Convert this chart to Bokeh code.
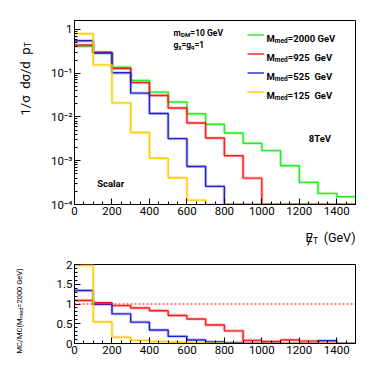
import numpy as np
from bokeh.plotting import figure
from bokeh.models import (Range1d, FixedTicker, CustomJSTickFormatter, Label, Legend,
                          LegendItem, Span)
from bokeh.layouts import column, row
from bokeh.embed import file_html
from bokeh.resources import INLINE

# ---------------- data ----------------
bin_edges = [0, 100, 200, 300, 400, 500, 600, 700, 800, 900, 1000, 1100, 1200, 1300, 1400, 1500]
series_names = ["2000", "925", "525", "125"]
norm_2000 = [0.41, 0.29, 0.137, 0.068, 0.037, 0.022, 0.0118, 0.0068, 0.0043, 0.0025,
             0.0017, 0.00077, 0.00032, 0.00018, 0.00015]
norm_925 = [0.44, 0.30, 0.128, 0.061, 0.031, 0.016, 0.0073, 0.0033, 0.0013, 0.0004,
            0, 0, 0, 0, 0]
norm_525 = [0.55, 0.29, 0.102, 0.035, 0.012, 0.0032, 0.00074, 0.00026, 0, 0,
            0, 0, 0, 0, 0]
norm_125 = [0.80, 0.155, 0.021, 0.0044, 0.00114, 0.00041, 0.000126, 0, 0, 0,
            0, 0, 0, 0, 0]
ratio_925 = [1.09, 1.03, 0.96, 0.90, 0.83, 0.71, 0.62, 0.47, 0.32, 0.08,
             0.05, 0.09, 0.06, 0.0, 0.0]
ratio_525 = [1.34, 0.99, 0.75, 0.54, 0.34, 0.18, 0.09, 0.04, 0.02, 0.01,
             0.01, 0.0, 0.0, 0.07, 0.0]
ratio_125 = [1.98, 0.55, 0.16, 0.08, 0.05, 0.03, 0.02, 0.0, 0.0, 0.0,
             0.0, 0.0, 0.0, 0.0, 0.0]
x_ticks = [0, 200, 400, 600, 800, 1000, 1200, 1400]
y_log_ticks = [1e-4, 1e-3, 1e-2, 1e-1, 1]
ratio_ticks = [0, 0.5, 1, 1.5, 2]

colors = ["#22ee22", "#ff1a1a", "#2222cc", "#ffcc00"]
FONT = "Roboto"
YMIN, YMAX = 1e-4, 1.6

# approximate character widths (em) of Roboto Bold
W_BOLD = {' ': .26, '\u00a0': .26, '=': .56, 'D': .66, 'G': .69, 'M': .88, 'S': .62,
          'T': .62, 'V': .65, 'a': .55, 'c': .53, 'd': .57, 'e': .54, 'g': .57,
          'l': .26, 'm': .89, 'q': .57, 'r': .36, '\u03c7': .52}


def twidth(s):
    return sum(W_BOLD.get(c, .57) for c in s)


def lab(p, x, y, txt, size, bold=False, angle=0.0, align="left"):
    p.add_layout(Label(x=x, y=y, x_units="screen", y_units="screen", text=txt,
                       text_font=FONT, text_font_size=f"{size}px",
                       text_font_style="bold" if bold else "normal",
                       text_color="black", angle=angle, text_align=align,
                       text_baseline="alphabetic"))


def rich(p, x, y, pieces, bold=False):
    pos = 0.0
    for txt, size, shift in pieces:
        lab(p, x + pos, y + shift, txt, size, bold)
        pos += twidth(txt) * size


def style_axes(p):
    for ax in (p.xaxis[0], p.yaxis[0]):
        ax.axis_line_color = "black"
        ax.major_tick_in = 6
        ax.major_tick_out = 0
        ax.minor_tick_in = 3
        ax.minor_tick_out = 0
        ax.major_tick_line_color = "black"
        ax.minor_tick_line_color = "black"
        ax.major_label_text_font = FONT
        ax.major_label_text_font_size = "11.5px"
        ax.major_label_text_color = "black"
        ax.major_label_standoff = 2
    p.xgrid.visible = False
    p.ygrid.visible = False
    p.outline_line_color = "black"
    p.outline_line_width = 1
    p.background_fill_color = "white"
    p.border_fill_color = "white"


def strip(w, h):
    s = figure(width=w, height=h, output_backend="svg", toolbar_location=None,
               x_range=Range1d(0, 1), y_range=Range1d(0, 1),
               x_axis_location=None, y_axis_location=None,
               min_border_left=0, min_border_right=0, min_border_top=0, min_border_bottom=0)
    s.xgrid.visible = False
    s.ygrid.visible = False
    s.outline_line_color = None
    s.background_fill_color = "white"
    s.border_fill_color = "white"
    return s


x_minor = list(np.arange(0, 1501, 50))
edges = np.array(bin_edges, dtype=float)
VERT = np.pi / 2

# ---------------- top plot ----------------
top = figure(width=326, height=220, y_axis_type="log", output_backend="svg",
             toolbar_location=None, x_range=Range1d(0, 1500), y_range=Range1d(YMIN, YMAX),
             min_border_left=34, min_border_right=11, min_border_top=20, min_border_bottom=16)
style_axes(top)
top.xaxis.ticker = FixedTicker(ticks=x_ticks, minor_ticks=x_minor)
top.yaxis.ticker = FixedTicker(
    ticks=y_log_ticks,
    minor_ticks=[k * 10.0 ** e for e in range(-4, 1) for k in range(2, 10) if k * 10.0 ** e <= YMAX])
top.yaxis.formatter = CustomJSTickFormatter(code="""
const e = Math.round(Math.log10(tick));
if (e == 0) return "1";
const sup = {"-": "\u207b", "0": "\u2070", "1": "\u00b9", "2": "\u00b2", "3": "\u00b3", "4": "\u2074"};
return "10" + String(e).split("").map(c => sup[c]).join("");
""")

renderers = []
for vals, col in zip([norm_2000, norm_925, norm_525, norm_125], colors):
    v = np.maximum(np.array(vals, dtype=float), YMIN)
    yy = np.append(v, v[-1])
    top.step(edges, yy, mode="after", line_color=col, line_width=3.2, line_alpha=0.25)
    r = top.step(edges, yy, mode="after", line_color=col, line_width=1.4)
    renderers.append(r)

legend = Legend(items=[LegendItem(label=" ", renderers=[r]) for r in renderers],
                location=(172.7, 102.8), glyph_width=17, glyph_height=19, label_height=19,
                label_width=0, label_standoff=0, spacing=0, padding=0, margin=0,
                border_line_alpha=0, background_fill_alpha=0, label_text_font_size="1px")
top.add_layout(legend)

legend_texts = ["=2000 GeV", "=925\u00a0\u00a0GeV", "=525\u00a0\u00a0GeV", "=125\u00a0\u00a0GeV"]
for t, yb in zip(legend_texts, [166, 147, 128, 108.7]):
    rich(top, 192, yb, [("M", 9.5, 0), ("med", 6.5, -2.5), (t, 9.5, 0)], bold=True)

rich(top, 99, 171.7, [("m", 8.5, 0), ("DM", 6, -2), ("=10 GeV", 8.5, 0)], bold=True)
rich(top, 99, 159.7, [("g", 8.5, 0), ("\u03c7", 6, -2), ("=g", 8.5, 0), ("q", 6, -2), ("=1", 8.5, 0)], bold=True)
rich(top, 234.3, 65.7, [("8TeV", 9.5, 0)], bold=True)
rich(top, 22.7, 21.3, [("Scalar", 9.5, 0)], bold=True)

# y axis title strip (its frame is aligned with the top plot's frame)
ytop = strip(40, 220)
gap = "\u2002"
lab(ytop, 24.5, 173, "1/\u03c3" + gap + "d\u03c3/d" + gap + "p", 13, angle=VERT, align="right")
lab(ytop, 27.5, 173.5, "T", 8.5, angle=VERT, align="left")

# x axis title strip (its frame is aligned with the plot frames above and below)
xt = strip(326, 36)
lab(xt, 231, 19, "E", 12.5)
lab(xt, 232.5, 17, "/", 15)
lab(xt, 238.5, 16, "T", 8.5)
lab(xt, 281, 19, "(GeV)", 12.5, align="right")

# ---------------- ratio plot ----------------
rat = figure(width=326, height=103, output_backend="svg", toolbar_location=None,
             x_range=Range1d(0, 1500), y_range=Range1d(0, 2),
             min_border_left=34, min_border_right=11, min_border_top=8, min_border_bottom=16)
style_axes(rat)
rat.xaxis.ticker = FixedTicker(ticks=x_ticks, minor_ticks=x_minor)
rat.yaxis.ticker = FixedTicker(ticks=ratio_ticks, minor_ticks=[i / 10 for i in range(21)])
rat.yaxis.formatter = CustomJSTickFormatter(code="return tick.toString();")

rat.add_layout(Span(location=1, dimension="width", line_color="#ff0000", line_dash="2 2",
                    line_width=1.2))
for vals, col in zip([ratio_925, ratio_525, ratio_125], colors[1:]):
    v = np.array(vals, dtype=float)
    yy = np.append(v, v[-1])
    rat.step(edges, yy, mode="after", line_color=col, line_width=3.2, line_alpha=0.25)
    rat.step(edges, yy, mode="after", line_color=col, line_width=1.4)

# ratio y title strip: taller than the ratio plot so the rotated text has room
yrat = strip(40, 139)
P = 41
lab(yrat, 18.7, P, "MC/MC(M", 7.5, angle=VERT, align="right")
lab(yrat, 20.7, P, "med", 5.5, angle=VERT, align="left")
lab(yrat, 18.7, P + 1.97 * 5.5, "=2000 GeV)", 7.5, angle=VERT, align="left")

layout = row(column(ytop, yrat, spacing=0), column(top, xt, rat, spacing=0), spacing=0)
open("out.html", "w").write(file_html(layout, INLINE))
